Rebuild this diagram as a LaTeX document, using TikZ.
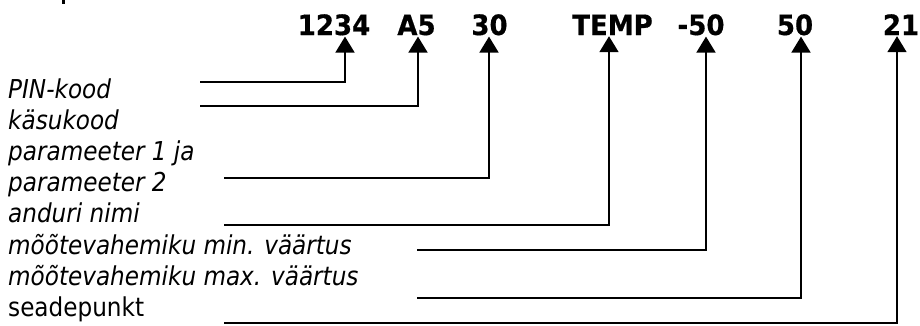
\documentclass[tikz,border=0pt]{standalone}
\usepackage{fontspec}
\setmainfont{DejaVu Sans}[FakeStretch=0.89]
\newfontfamily\tokfont{DejaVu Sans}[FakeStretch=0.93,BoldFeatures={FakeBold=0.6}]
\usetikzlibrary{arrows.meta}
\begin{document}
\begin{tikzpicture}[x=1pt,y=-1pt,
  lbl/.style={anchor=base west,inner sep=0pt,font=\fontsize{26}{31}\selectfont\itshape},
  lblup/.style={anchor=base west,inner sep=0pt,font=\fontsize{26}{31}\selectfont\upshape},
  tok/.style={anchor=base,inner sep=0pt,font={\tokfont\fontsize{28}{31}\selectfont\bfseries}},
  conn/.style={line width=1.8pt,-{Triangle[width=19pt,length=16pt]},shorten >=1pt}]
\useasboundingbox (0,0) rectangle (920,325);
% cut-off glyph fragment at the top edge
\fill (62,0) rectangle (64.5,4);
% top row
\node[tok] (t1) at (334,35) {1234};
\node[tok] (t2) at (416.5,35) {A5};
\node[tok] (t3) at (489.5,35) {30};
\node[tok] (t4) at (612.5,35) {TEMP};
\node[tok] (t5) at (701,35) {-50};
\node[tok] (t6) at (795,35) {50};
\node[tok] (t7) at (901,35) {21};
% labels
\node[lbl] (l1) at (8,98) {PIN-kood};
\node[lbl] (l2) at (8,129) {käsukood};
\node[lbl] (l3) at (8,160) {parameeter 1 ja};
\node[lbl] (l4) at (8,191) {parameeter 2};
\node[lbl] (l5) at (8,222) {anduri nimi};
\node[lbl] (l6) at (8,254) {mõõtevahemiku min. väärtus};
\node[lbl] (l7) at (8,285) {mõõtevahemiku max. väärtus};
\node[lblup] (l8) at (8,316) {seadepunkt};
% connector start points and corners
\coordinate (s1) at (200,82);  \coordinate (e1) at (345,82);
\coordinate (s2) at (200,106); \coordinate (e2) at (418,106);
\coordinate (s3) at (224,178); \coordinate (e3) at (489,178);
\coordinate (s4) at (224,225); \coordinate (e4) at (609,225);
\coordinate (s5) at (417,250); \coordinate (e5) at (706,250);
\coordinate (s6) at (417,298); \coordinate (e6) at (801,298);
\coordinate (s7) at (224,323); \coordinate (e7) at (897,323);
\draw[conn] (s1) -- (e1) -- (e1 |- t1.south);
\draw[conn] (s2) -- (e2) -- (e2 |- t2.south);
\draw[conn] (s3) -- (e3) -- (e3 |- t3.south);
\draw[conn] (s4) -- (e4) -- (e4 |- t4.south);
\draw[conn] (s5) -- (e5) -- (e5 |- t5.south);
\draw[conn] (s6) -- (e6) -- (e6 |- t6.south);
\draw[conn] (s7) -- (e7) -- (e7 |- t7.south);
\end{tikzpicture}
\end{document}
